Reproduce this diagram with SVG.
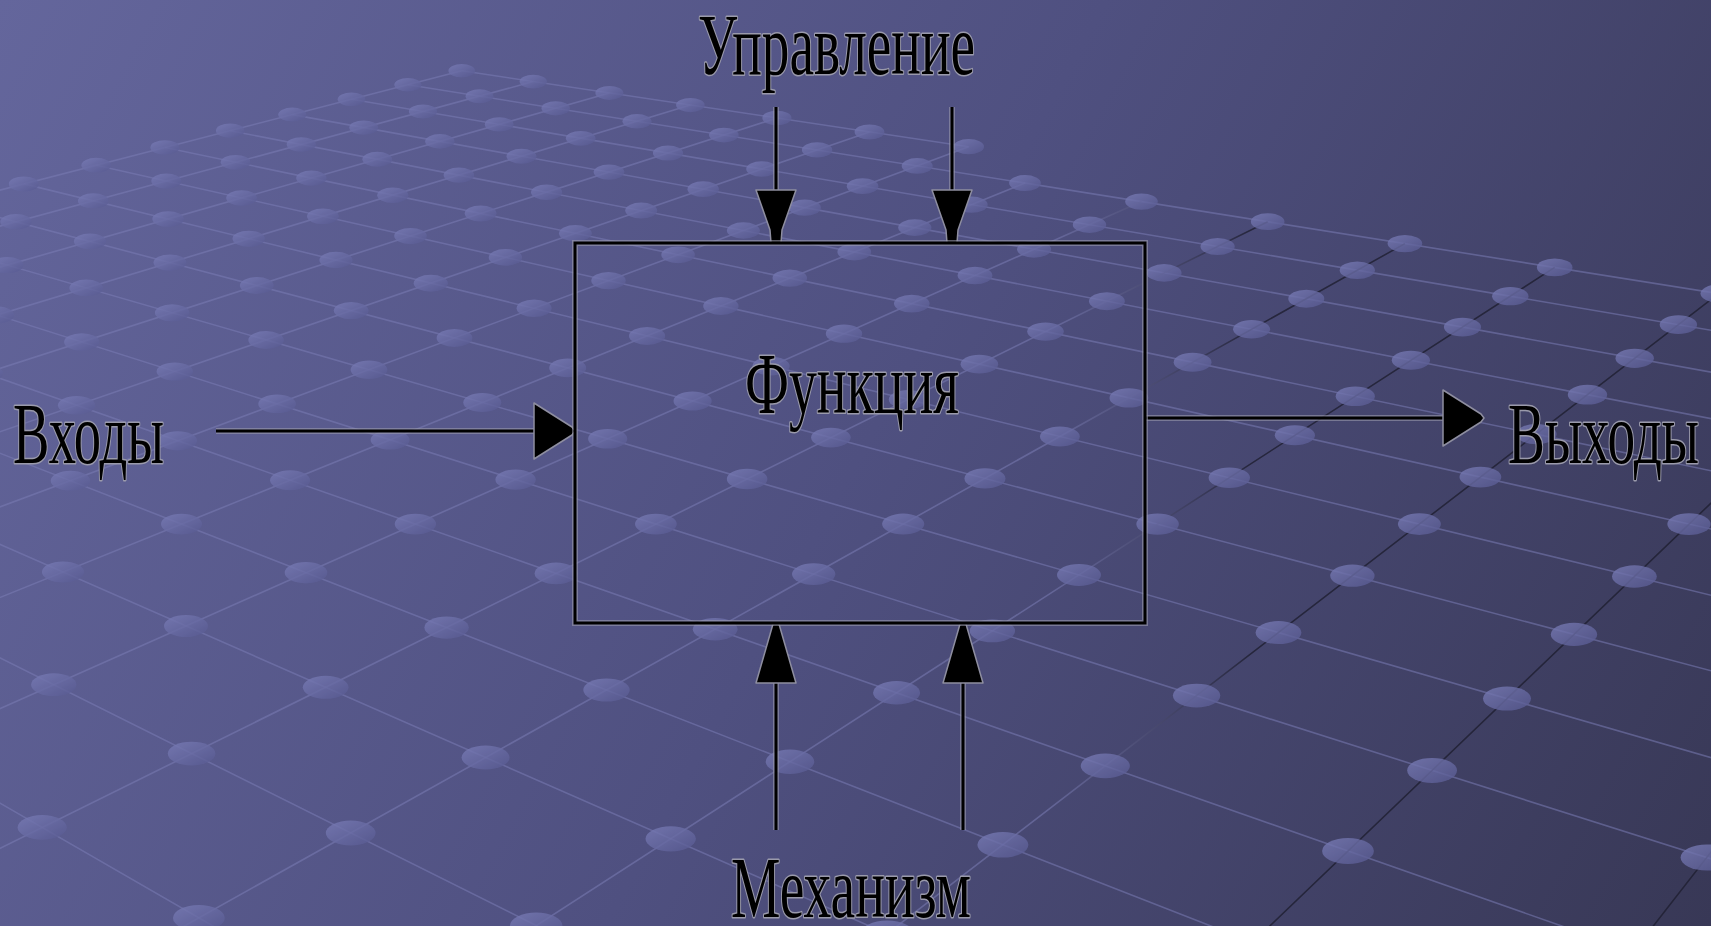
<svg xmlns="http://www.w3.org/2000/svg" width="1711" height="926" viewBox="0 0 1711 926">
<defs>
<linearGradient id="bgg" gradientUnits="userSpaceOnUse" x1="0" y1="0" x2="1711" y2="926">
<stop offset="0" stop-color="#64669c"/><stop offset="0.5" stop-color="#4f5080"/><stop offset="1" stop-color="#383856"/>
</linearGradient>
<linearGradient id="bgr" gradientUnits="userSpaceOnUse" x1="1050" y1="0" x2="1250" y2="0">
<stop offset="0" stop-color="#7a7cb4" stop-opacity="0.55"/><stop offset="1" stop-color="#1e1e30" stop-opacity="0.8"/>
</linearGradient>
<linearGradient id="dg" x1="0" y1="0" x2="1" y2="1">
<stop offset="0" stop-color="#7a7db7"/><stop offset="1" stop-color="#575990"/>
</linearGradient>
<style>
.ga{fill:none;stroke:#7a7cb4;stroke-opacity:.55;stroke-width:1.6}
.gb{fill:none;stroke:url(#bgr);stroke-width:1.6}
.d{fill:url(#dg);opacity:.8}
.halo{fill:none;stroke:#9a9aac;stroke-opacity:.6;stroke-width:6}
.ln{fill:none;stroke:#000;stroke-width:3}
.ah{fill:#000;stroke:#8e8ea0;stroke-width:1.5;stroke-linejoin:round}
.t{font-family:"Liberation Serif","DejaVu Serif",serif;font-size:86px;fill:#000;stroke:#9a9aab;stroke-width:3;stroke-linejoin:round;paint-order:stroke}
</style>
</defs>
<rect class="bg" x="0" y="0" width="1711" height="926" fill="url(#bgg)"/>
<g id="grid">
<path class="ga" d="M461.8 70.8L968.7 146.7M407.9 84.8L1718.8 293.6M351.5 99.3L1864 356.3M292.3 114.6L1825.7 393M230.2 130.7L1784.1 432.9M164.9 147.5L1738.7 476.5M96.2 165.2L1925.2 577.3M23.8 183.9L1879 636.2M-52.6 203.7L1828 701.7M-65.8 244L1771 775M-81 290.3L2031 960.4M-98.6 343.9L1633.7 951.2M-119.2 406.7L1252.7 942.3M-143.7 481.3L887.2 933.8M-66.8 624.5L755.5 1035M-92.5 749.7L383.5 1024.4"/>
<path class="gb" d="M461.8 70.8L-52.6 203.7M533.3 81.6L-65.8 244M609.4 92.9L-81 290.3M690.4 105.1L-98.6 343.9M776.9 118L-119.2 406.7M869.5 131.9L-143.7 481.3M968.7 146.7L-173.2 571.3M1025 183.1L-66.8 624.5M1141.5 201.6L-92.5 749.7M1267.7 221.7L-125.6 910.4M1404.9 243.6L26.9 1014M1554.7 267.4L383.5 1024.4M1718.8 293.6L755.5 1035M1899.5 322.4L1144 1046.6M1879 636.2L1633.7 951.2"/>
<g class="d">
<ellipse cx="461.8" cy="70.8" rx="13.4" ry="6.7"/><ellipse cx="407.9" cy="84.8" rx="13.6" ry="6.8"/><ellipse cx="351.5" cy="99.3" rx="13.8" ry="6.9"/><ellipse cx="292.3" cy="114.6" rx="14.1" ry="7"/><ellipse cx="230.2" cy="130.7" rx="14.3" ry="7.2"/><ellipse cx="164.9" cy="147.5" rx="14.5" ry="7.3"/><ellipse cx="96.2" cy="165.2" rx="14.8" ry="7.4"/><ellipse cx="23.8" cy="183.9" rx="15" ry="7.5"/>
<ellipse cx="533.3" cy="81.6" rx="13.7" ry="6.8"/><ellipse cx="479.5" cy="96.2" rx="13.9" ry="7"/><ellipse cx="423" cy="111.5" rx="14.1" ry="7"/><ellipse cx="363.7" cy="127.6" rx="14.4" ry="7.2"/><ellipse cx="301.3" cy="144.5" rx="14.6" ry="7.3"/><ellipse cx="235.6" cy="162.3" rx="14.9" ry="7.4"/><ellipse cx="166.4" cy="181.1" rx="15.1" ry="7.6"/><ellipse cx="93.3" cy="200.9" rx="15.4" ry="7.7"/><ellipse cx="16" cy="221.8" rx="15.7" ry="7.8"/>
<ellipse cx="609.4" cy="92.9" rx="14" ry="7"/><ellipse cx="555.7" cy="108.3" rx="14.2" ry="7.1"/><ellipse cx="499.2" cy="124.4" rx="14.4" ry="7.2"/><ellipse cx="439.9" cy="141.4" rx="14.7" ry="7.3"/><ellipse cx="377.3" cy="159.3" rx="14.9" ry="7.5"/><ellipse cx="311.4" cy="178.1" rx="15.2" ry="7.6"/><ellipse cx="241.7" cy="198" rx="15.5" ry="7.7"/><ellipse cx="168.1" cy="219.1" rx="15.8" ry="7.9"/><ellipse cx="90" cy="241.4" rx="16.1" ry="8"/><ellipse cx="7.1" cy="265.1" rx="16.4" ry="8.2"/>
<ellipse cx="690.4" cy="105.1" rx="14.3" ry="7.1"/><ellipse cx="637" cy="121.3" rx="14.5" ry="7.3"/><ellipse cx="580.7" cy="138.3" rx="14.8" ry="7.4"/><ellipse cx="521.5" cy="156.2" rx="15" ry="7.5"/><ellipse cx="458.9" cy="175.1" rx="15.3" ry="7.6"/><ellipse cx="392.8" cy="195.2" rx="15.6" ry="7.8"/><ellipse cx="322.9" cy="216.3" rx="15.9" ry="7.9"/><ellipse cx="248.7" cy="238.8" rx="16.2" ry="8.1"/><ellipse cx="170" cy="262.6" rx="16.5" ry="8.2"/><ellipse cx="86.2" cy="288" rx="16.8" ry="8.4"/><ellipse cx="-3.1" cy="315" rx="17.2" ry="8.6"/>
<ellipse cx="776.9" cy="118" rx="14.6" ry="7.3"/><ellipse cx="723.9" cy="135.1" rx="14.8" ry="7.4"/><ellipse cx="668" cy="153.1" rx="15.1" ry="7.5"/><ellipse cx="609" cy="172.1" rx="15.4" ry="7.7"/><ellipse cx="546.6" cy="192.2" rx="15.6" ry="7.8"/><ellipse cx="480.6" cy="213.5" rx="15.9" ry="8"/><ellipse cx="410.5" cy="236.1" rx="16.3" ry="8.1"/><ellipse cx="336" cy="260" rx="16.6" ry="8.3"/><ellipse cx="256.8" cy="285.6" rx="16.9" ry="8.5"/><ellipse cx="172.2" cy="312.8" rx="17.3" ry="8.6"/><ellipse cx="81.8" cy="342" rx="17.7" ry="8.8"/><ellipse cx="-15.1" cy="373.2" rx="18.1" ry="9"/>
<ellipse cx="869.5" cy="131.9" rx="14.9" ry="7.5"/><ellipse cx="817.1" cy="149.9" rx="15.2" ry="7.6"/><ellipse cx="761.7" cy="169" rx="15.5" ry="7.7"/><ellipse cx="703.2" cy="189.2" rx="15.7" ry="7.9"/><ellipse cx="641.2" cy="210.6" rx="16" ry="8"/><ellipse cx="575.4" cy="233.3" rx="16.4" ry="8.2"/><ellipse cx="505.4" cy="257.4" rx="16.7" ry="8.4"/><ellipse cx="430.8" cy="283.2" rx="17.1" ry="8.5"/><ellipse cx="351.2" cy="310.6" rx="17.4" ry="8.7"/><ellipse cx="266.1" cy="340" rx="17.8" ry="8.9"/><ellipse cx="174.8" cy="371.5" rx="18.2" ry="9.1"/><ellipse cx="76.6" cy="405.3" rx="18.7" ry="9.3"/>
<ellipse cx="968.7" cy="146.7" rx="15.3" ry="7.6"/><ellipse cx="917.2" cy="165.9" rx="15.5" ry="7.8"/><ellipse cx="862.6" cy="186.2" rx="15.8" ry="7.9"/><ellipse cx="804.8" cy="207.7" rx="16.1" ry="8.1"/><ellipse cx="743.4" cy="230.5" rx="16.5" ry="8.2"/><ellipse cx="678.1" cy="254.8" rx="16.8" ry="8.4"/><ellipse cx="608.5" cy="280.7" rx="17.2" ry="8.6"/><ellipse cx="534.1" cy="308.3" rx="17.5" ry="8.8"/><ellipse cx="454.5" cy="337.9" rx="17.9" ry="9"/><ellipse cx="369" cy="369.7" rx="18.4" ry="9.2"/><ellipse cx="277.1" cy="403.9" rx="18.8" ry="9.4"/><ellipse cx="177.8" cy="440.8" rx="19.3" ry="9.6"/><ellipse cx="70.5" cy="480.7" rx="19.8" ry="9.9"/>
<ellipse cx="1025" cy="183.1" rx="15.9" ry="8"/><ellipse cx="971.5" cy="204.7" rx="16.2" ry="8.1"/><ellipse cx="914.8" cy="227.6" rx="16.6" ry="8.3"/><ellipse cx="854.3" cy="252.1" rx="16.9" ry="8.5"/><ellipse cx="789.8" cy="278.1" rx="17.3" ry="8.7"/><ellipse cx="720.9" cy="306" rx="17.7" ry="8.9"/><ellipse cx="647.1" cy="335.9" rx="18.1" ry="9"/><ellipse cx="567.7" cy="367.9" rx="18.5" ry="9.3"/><ellipse cx="482.3" cy="402.5" rx="19" ry="9.5"/><ellipse cx="390.1" cy="439.8" rx="19.5" ry="9.7"/><ellipse cx="290.1" cy="480.2" rx="20" ry="10"/><ellipse cx="181.5" cy="524.1" rx="20.5" ry="10.3"/><ellipse cx="63" cy="572" rx="21.1" ry="10.6"/>
<ellipse cx="1141.5" cy="201.6" rx="16.3" ry="8.2"/><ellipse cx="1089.5" cy="224.7" rx="16.7" ry="8.3"/><ellipse cx="1034.1" cy="249.3" rx="17" ry="8.5"/><ellipse cx="975" cy="275.5" rx="17.4" ry="8.7"/><ellipse cx="911.8" cy="303.6" rx="17.8" ry="8.9"/><ellipse cx="844" cy="333.7" rx="18.2" ry="9.1"/><ellipse cx="771.1" cy="366.1" rx="18.6" ry="9.3"/><ellipse cx="692.6" cy="401" rx="19.1" ry="9.6"/><ellipse cx="607.7" cy="438.7" rx="19.6" ry="9.8"/><ellipse cx="515.6" cy="479.6" rx="20.2" ry="10.1"/><ellipse cx="415.4" cy="524.1" rx="20.7" ry="10.4"/><ellipse cx="306" cy="572.7" rx="21.3" ry="10.7"/><ellipse cx="186" cy="626" rx="22" ry="11"/><ellipse cx="53.8" cy="684.7" rx="22.7" ry="11.4"/>
<ellipse cx="1267.7" cy="221.7" rx="16.8" ry="8.4"/><ellipse cx="1217.6" cy="246.5" rx="17.1" ry="8.6"/><ellipse cx="1164.1" cy="272.9" rx="17.5" ry="8.8"/><ellipse cx="1106.9" cy="301.2" rx="17.9" ry="9"/><ellipse cx="1045.5" cy="331.6" rx="18.3" ry="9.2"/><ellipse cx="979.4" cy="364.2" rx="18.8" ry="9.4"/><ellipse cx="908.1" cy="399.5" rx="19.3" ry="9.6"/><ellipse cx="830.9" cy="437.6" rx="19.8" ry="9.9"/><ellipse cx="747.1" cy="479" rx="20.3" ry="10.2"/><ellipse cx="655.9" cy="524.1" rx="20.9" ry="10.4"/><ellipse cx="556.1" cy="573.4" rx="21.5" ry="10.8"/><ellipse cx="446.6" cy="627.6" rx="22.2" ry="11.1"/><ellipse cx="325.7" cy="687.3" rx="22.9" ry="11.5"/><ellipse cx="191.6" cy="753.6" rx="23.8" ry="11.9"/><ellipse cx="42.2" cy="827.4" rx="24.6" ry="12.3"/>
<ellipse cx="1404.9" cy="243.6" rx="17.3" ry="8.6"/><ellipse cx="1357.3" cy="270.2" rx="17.6" ry="8.8"/><ellipse cx="1306.3" cy="298.7" rx="18" ry="9"/><ellipse cx="1251.6" cy="329.3" rx="18.5" ry="9.2"/><ellipse cx="1192.6" cy="362.3" rx="18.9" ry="9.5"/><ellipse cx="1128.9" cy="397.9" rx="19.4" ry="9.7"/><ellipse cx="1059.9" cy="436.5" rx="19.9" ry="10"/><ellipse cx="985" cy="478.4" rx="20.5" ry="10.2"/><ellipse cx="903.2" cy="524.1" rx="21.1" ry="10.5"/><ellipse cx="813.7" cy="574.1" rx="21.7" ry="10.9"/><ellipse cx="715.2" cy="629.2" rx="22.4" ry="11.2"/><ellipse cx="606.5" cy="690" rx="23.2" ry="11.6"/><ellipse cx="485.6" cy="757.5" rx="24" ry="12"/><ellipse cx="350.7" cy="833" rx="24.9" ry="12.5"/><ellipse cx="198.9" cy="917.9" rx="25.9" ry="13"/>
<ellipse cx="1554.7" cy="267.4" rx="17.8" ry="8.9"/><ellipse cx="1510.3" cy="296.2" rx="18.2" ry="9.1"/><ellipse cx="1462.5" cy="327.1" rx="18.6" ry="9.3"/><ellipse cx="1410.9" cy="360.3" rx="19.1" ry="9.5"/><ellipse cx="1355.3" cy="396.3" rx="19.6" ry="9.8"/><ellipse cx="1294.9" cy="435.3" rx="20.1" ry="10"/><ellipse cx="1229.3" cy="477.8" rx="20.7" ry="10.3"/><ellipse cx="1157.6" cy="524.1" rx="21.3" ry="10.7"/><ellipse cx="1079" cy="574.9" rx="22" ry="11"/><ellipse cx="992.4" cy="630.9" rx="22.7" ry="11.4"/><ellipse cx="896.6" cy="692.8" rx="23.5" ry="11.7"/><ellipse cx="790" cy="761.7" rx="24.3" ry="12.2"/><ellipse cx="670.7" cy="838.8" rx="25.2" ry="12.6"/><ellipse cx="536.2" cy="925.7" rx="26.3" ry="13.1"/>
<ellipse cx="1718.8" cy="293.6" rx="18.3" ry="9.1"/><ellipse cx="1678.4" cy="324.7" rx="18.7" ry="9.4"/><ellipse cx="1634.7" cy="358.3" rx="19.2" ry="9.6"/><ellipse cx="1587.5" cy="394.7" rx="19.7" ry="9.9"/><ellipse cx="1536.3" cy="434.1" rx="20.3" ry="10.1"/><ellipse cx="1480.4" cy="477.1" rx="20.9" ry="10.4"/><ellipse cx="1419.4" cy="524.1" rx="21.5" ry="10.8"/><ellipse cx="1352.4" cy="575.7" rx="22.2" ry="11.1"/><ellipse cx="1278.5" cy="632.6" rx="22.9" ry="11.5"/><ellipse cx="1196.6" cy="695.6" rx="23.7" ry="11.9"/><ellipse cx="1105.3" cy="765.9" rx="24.6" ry="12.3"/><ellipse cx="1002.9" cy="844.8" rx="25.5" ry="12.8"/><ellipse cx="887.2" cy="933.8" rx="26.6" ry="13.3"/>
<ellipse cx="1689" cy="524.1" rx="21.7" ry="10.9"/><ellipse cx="1634.4" cy="576.5" rx="22.4" ry="11.2"/><ellipse cx="1574" cy="634.4" rx="23.2" ry="11.6"/><ellipse cx="1507" cy="698.6" rx="24" ry="12"/><ellipse cx="1432.1" cy="770.4" rx="24.9" ry="12.5"/><ellipse cx="1348" cy="851" rx="25.9" ry="13"/>
<ellipse cx="1706.8" cy="857.5" rx="26.2" ry="13.1"/>
</g>
</g>
<g id="connectors">
<g id="c-control-1">
<line class="halo" x1="776" y1="107" x2="776" y2="192"/><line class="ln" x1="776" y1="107" x2="776" y2="192"/>
<polygon class="ah" points="756,190 796,190 782,230 781,243 771,243 770,230"/>
</g>
<g id="c-control-2">
<line class="halo" x1="952" y1="107" x2="952" y2="192"/><line class="ln" x1="952" y1="107" x2="952" y2="192"/>
<polygon class="ah" points="932,190 972,190 958,230 957,243 947,243 946,230"/>
</g>
<g id="c-mech-1">
<line class="halo" x1="776" y1="830" x2="776" y2="681"/><line class="ln" x1="776" y1="830" x2="776" y2="681"/>
<polygon class="ah" points="773,624 779,624 796,683 756,683"/>
</g>
<g id="c-mech-2">
<line class="halo" x1="963" y1="830" x2="963" y2="681"/><line class="ln" x1="963" y1="830" x2="963" y2="681"/>
<polygon class="ah" points="960,624 966,624 983,683 943,683"/>
</g>
<g id="c-input">
<line class="halo" x1="216" y1="431" x2="536" y2="431"/><line class="ln" x1="216" y1="431" x2="536" y2="431"/>
<polygon class="ah" points="534,403 572,427 575,431 572,435 534,459"/>
</g>
<g id="c-output">
<line class="halo" x1="1145" y1="418" x2="1445" y2="418"/><line class="ln" x1="1145" y1="418" x2="1445" y2="418"/>
<polygon class="ah" points="1443,390 1481,414 1484,418 1481,422 1443,446"/>
</g>
</g>
<g id="node-function">
<rect class="halo" x="575" y="243" width="570" height="380"/>
<rect class="ln" x="575" y="243" width="570" height="380"/>
<text class="t" x="745" y="413" textLength="214" lengthAdjust="spacingAndGlyphs">Функция</text>
</g>
<g id="label-control"><text class="t" x="698" y="74" font-size="84" textLength="277" lengthAdjust="spacingAndGlyphs">Управление</text></g>
<g id="label-input"><text class="t" x="13" y="463" font-size="88" textLength="151" lengthAdjust="spacingAndGlyphs">Входы</text></g>
<g id="label-output"><text class="t" x="1508" y="463" font-size="88" textLength="191" lengthAdjust="spacingAndGlyphs">Выходы</text></g>
<g id="label-mechanism"><text class="t" x="731" y="917" textLength="240" lengthAdjust="spacingAndGlyphs">Механизм</text></g>
</svg>
